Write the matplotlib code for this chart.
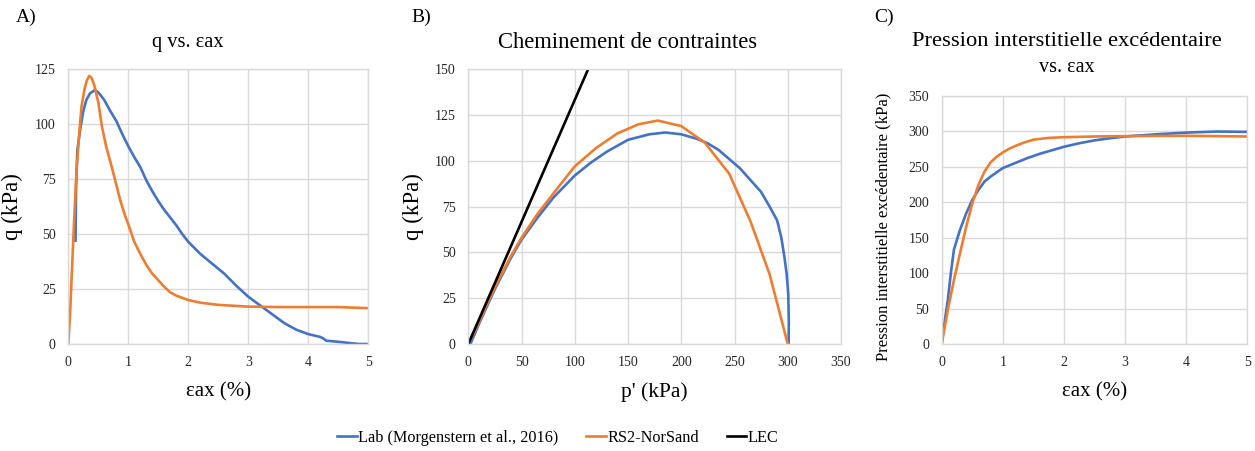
import numpy as np
import matplotlib
matplotlib.use("Agg")
import matplotlib.pyplot as plt

plt.rcParams['font.family'] = ['Liberation Serif', 'DejaVu Serif']

BLUE = "#4472C4"
ORANGE = "#ED7D31"
GRID = "#D9D9D9"

# A) q vs axial strain
epsA_lab = [0.12, 0.13, 0.15, 0.2, 0.25, 0.3, 0.36, 0.44, 0.5, 0.6, 0.7, 0.8, 0.9, 1.0, 1.1, 1.2,
            1.3, 1.4, 1.5, 1.6, 1.7, 1.8, 1.9, 2.0, 2.2, 2.4, 2.6, 2.8, 3.0, 3.2, 3.4, 3.6, 3.8,
            4.0, 4.2, 4.25, 4.3, 4.5, 4.7, 4.85, 5.0]
qA_lab = [47, 72, 88, 98, 106, 111, 114, 115.5, 114.5, 111, 106, 101.5, 95.5, 90, 85, 80.5,
          74.5, 69.5, 65, 61, 57.5, 54, 50, 46.5, 41, 36.5, 32, 26.5, 21.5, 17.5, 13.5, 9.5, 6.5,
          4.5, 3.2, 2.5, 1.5, 1.0, 0.4, 0, 0]
epsA_rs2 = [0, 0.03, 0.06, 0.1, 0.14, 0.18, 0.22, 0.27, 0.31, 0.35, 0.39, 0.43, 0.5, 0.56, 0.63,
            0.72, 0.8, 0.86, 0.95, 1.0, 1.1, 1.2, 1.3, 1.4, 1.5, 1.6, 1.7, 1.8, 2.0, 2.2, 2.5,
            3.0, 3.5, 4.0, 4.5, 5.0]
qA_rs2 = [0, 14, 33, 58, 80, 95, 108, 116, 120, 122, 121, 118, 110, 99, 90,
          81, 72.5, 66, 58, 54.5, 46.5, 41, 36, 32, 29, 26, 23.5, 22, 20, 18.8, 17.8,
          17, 16.8, 16.8, 16.8, 16.3]

# B) stress path
pB_lab = [2, 10, 25, 40, 50, 65, 80, 100, 115, 130, 150, 170, 185, 200, 215, 225, 235, 245, 255,
          265, 275, 283, 290, 294, 297, 299, 300.5, 301, 300.8]
qB_lab = [0, 11, 30, 47, 57, 69, 80, 92, 99, 105, 111.5, 114.5, 115.5, 114.5, 112, 109.5, 106,
          101, 96, 89.5, 83, 75, 67.5, 58, 47, 38, 27, 12, 0]
pB_rs2 = [0, 10, 25, 40, 50, 65, 85, 100, 120, 140, 160, 178, 200, 222, 245, 265, 283, 300]
qB_rs2 = [0, 12, 31, 48, 58, 71, 86, 97, 107, 115, 120, 122, 119, 110, 93, 67, 38, 0]
pB_lec = [0, 112.5]
qB_lec = [0, 150]

# C) excess pore pressure vs axial strain
epsC_lab = [0, 0.05, 0.1, 0.15, 0.2, 0.3, 0.4, 0.5, 0.6, 0.7, 0.8, 0.9, 1.0, 1.2, 1.4, 1.6, 1.8,
            2.0, 2.25, 2.5, 2.75, 3.0, 3.5, 4.0, 4.5, 5.0]
uC_lab = [0, 32, 62, 100, 133, 161, 184, 203, 217, 229, 236, 242, 248, 255, 262, 268, 273,
          278, 283, 287, 290, 292.5, 295.5, 298, 299.5, 299]
epsC_rs2 = [0, 0.1, 0.2, 0.3, 0.4, 0.5, 0.6, 0.7, 0.8, 0.9, 1.0, 1.1, 1.2, 1.35, 1.5, 1.75, 2.0,
            2.5, 3.0, 4.0, 5.0]
uC_rs2 = [0, 48, 90, 128, 165, 198, 224, 243, 256, 264, 270, 275, 279, 284, 288, 290.5, 291.5,
          292.5, 293, 293.5, 292.5]

W, H = 1255, 451
fig = plt.figure(figsize=(W / 100, H / 100), dpi=100)


def box(l, r, t, b):
    return [l / W, 1 - b / H, (r - l) / W, (b - t) / H]


def style(ax):
    ax.grid(True, color=GRID, linewidth=1.0)
    ax.set_axisbelow(True)
    for s in ax.spines.values():
        s.set_color(GRID)
        s.set_linewidth(1.0)
    ax.tick_params(length=0, pad=9, labelsize=10, colors="#262626")


lw = 1.9
axA = fig.add_axes(box(68.3, 368.3, 69.3, 344))
axA.plot(epsA_lab, qA_lab, color=BLUE, lw=lw)
axA.plot(epsA_rs2, qA_rs2, color=ORANGE, lw=lw)
axA.set_xlim(0, 5)
axA.set_ylim(0, 125)
axA.set_xticks(range(0, 6))
axA.set_yticks(range(0, 126, 25))
style(axA)
axA.set_xlabel("εax (%)", fontsize=15)
axA.xaxis.set_label_coords(0.5, -0.138)
axA.set_ylabel("q (kPa)", fontsize=16.5)
axA.yaxis.set_label_coords(-0.15, 0.5)

axB = fig.add_axes(box(468.3, 841, 69.3, 344))
axB.plot(pB_lab, qB_lab, color=BLUE, lw=lw, label="Lab (Morgenstern et al., 2016)")
axB.plot(pB_rs2, qB_rs2, color=ORANGE, lw=lw, label="RS2-NorSand")
axB.plot(pB_lec, qB_lec, color="black", lw=lw, label="LEC")
axB.set_xlim(0, 350)
axB.set_ylim(0, 150)
axB.set_xticks(range(0, 351, 50))
axB.set_yticks(range(0, 151, 25))
style(axB)
axB.set_xlabel("p' (kPa)", fontsize=15.5)
axB.xaxis.set_label_coords(0.5, -0.138)
axB.set_ylabel("q (kPa)", fontsize=16.5)
axB.yaxis.set_label_coords(-0.12, 0.5)

axC = fig.add_axes(box(941.7, 1247.3, 95.7, 344))
axC.plot(epsC_lab, uC_lab, color=BLUE, lw=lw)
axC.plot(epsC_rs2, uC_rs2, color=ORANGE, lw=lw)
axC.set_xlim(0, 5)
axC.set_ylim(0, 350)
axC.set_xticks(range(0, 6))
axC.set_yticks(range(0, 351, 50))
style(axC)
axC.set_xlabel("εax (%)", fontsize=15)
axC.xaxis.set_label_coords(0.5, -0.153)
axC.set_ylabel("Pression interstitielle excédentaire (kPa)", fontsize=12)
axC.yaxis.set_label_coords(-0.165, 0.471)

# titles and panel letters
fig.text(187.5 / W, 1 - 43 / H, "q vs. εax", ha="center", va="center", fontsize=14.7)
fig.text(627.5 / W, 1 - 42 / H, "Cheminement de contraintes", ha="center", va="center", fontsize=16.3)
fig.text(1067 / W, 1 - 41 / H, "Pression interstitielle excédentaire", ha="center", va="center",
         fontsize=16.2)
fig.text(1067 / W, 1 - 68 / H, "vs. εax", ha="center", va="center", fontsize=14.5)
fig.text(16 / W, 1 - 17 / H, "A)", ha="left", va="center", fontsize=14)
fig.text(411 / W, 1 - 17 / H, "B)", ha="left", va="center", fontsize=14)
fig.text(874 / W, 1 - 17 / H, "C)", ha="left", va="center", fontsize=14)

handles, labels = axB.get_legend_handles_labels()
fig.legend(handles, labels, loc="center", bbox_to_anchor=(558 / W, 1 - 438 / H), ncol=3,
           frameon=False, fontsize=11.7, handlelength=1.2, handletextpad=0.1, columnspacing=1.7)

fig.savefig("out.png", dpi=100)
